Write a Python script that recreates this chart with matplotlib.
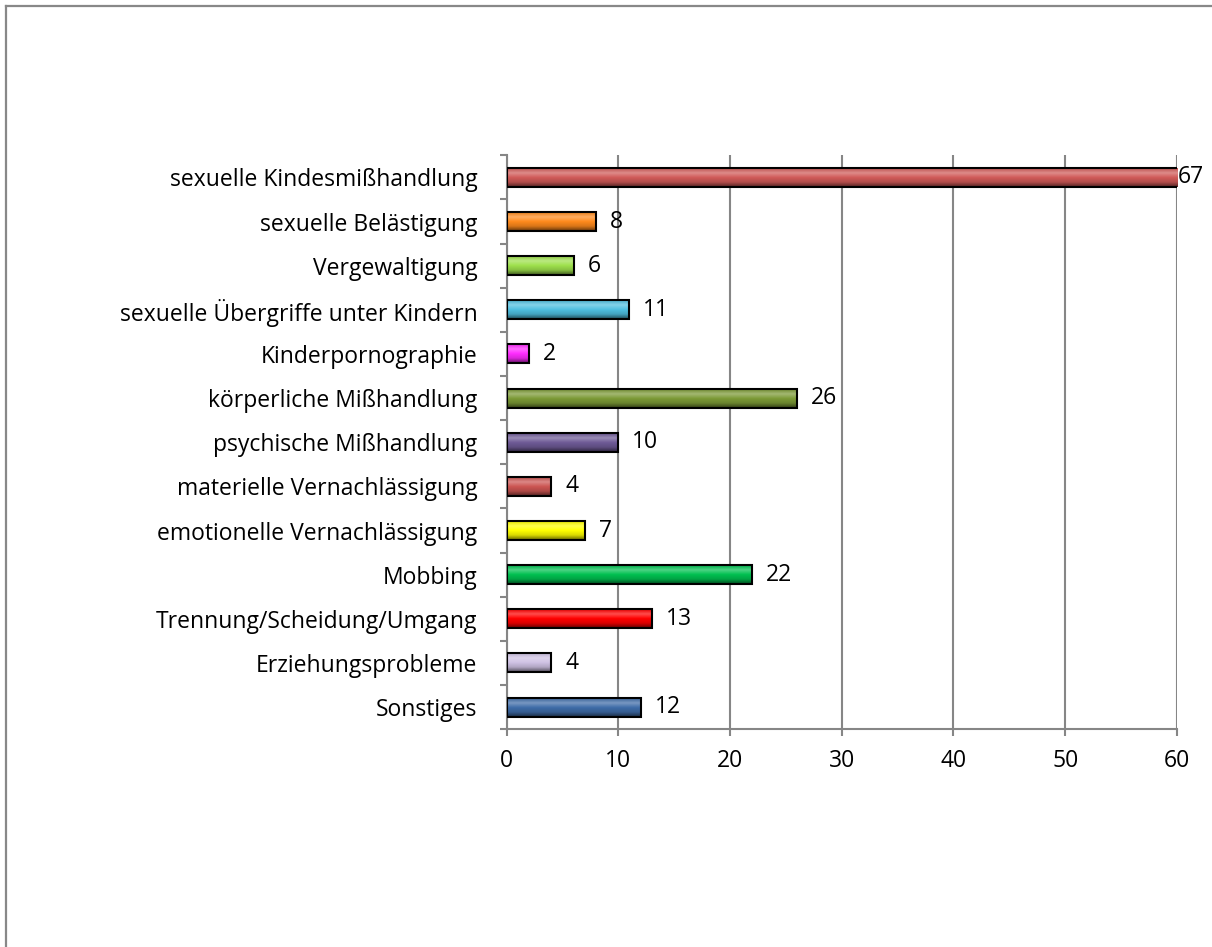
import numpy as np
import matplotlib.pyplot as plt
from matplotlib.colors import LinearSegmentedColormap, to_rgb
from matplotlib.lines import Line2D

plt.rcParams['font.family'] = ['Open Sans', 'DejaVu Sans']

# data, top to bottom as in the chart
categories = ['sexuelle Kindesmißhandlung', 'sexuelle Belästigung', 'Vergewaltigung',
              'sexuelle Übergriffe unter Kindern', 'Kinderpornographie',
              'körperliche Mißhandlung', 'psychische Mißhandlung',
              'materielle Vernachlässigung', 'emotionelle Vernachlässigung',
              'Mobbing', 'Trennung/Scheidung/Umgang', 'Erziehungsprobleme', 'Sonstiges']
values = [67, 8, 6, 11, 2, 26, 10, 4, 7, 22, 13, 4, 12]
colors = ['#d05a58', '#ff8a1c', '#9ee04c', '#4fbfe0', '#ff2cff', '#7c9a36',
          '#6e5a96', '#cc5552', '#ffff00', '#00c050', '#ff0000', '#cfc2e4', '#3f6ca8']

xmax = 60
fs = 16.5

fig = plt.figure(figsize=(12.12, 9.47), dpi=100)
ax = fig.add_axes([0.418, 0.230, 0.553, 0.606])

y = np.arange(len(categories))[::-1]
bars = ax.barh(y, values, height=0.43, color=colors, edgecolor='black', linewidth=1.5, zorder=4)

# glossy gradient inside each bar
for b, c in zip(bars, colors):
    r = np.array(to_rgb(c))
    dark = r * 0.4
    light = r + (1 - r) * 0.3
    cmap = LinearSegmentedColormap.from_list('g', [dark, r * 0.85, r, light, r * 0.9])
    grad = np.linspace(0, 1, 64).reshape(-1, 1)
    x0, y0 = b.get_x(), b.get_y()
    x1 = min(x0 + b.get_width(), xmax)
    ax.imshow(grad, cmap=cmap, aspect='auto', origin='lower',
              extent=[x0, x1, y0, y0 + b.get_height()], zorder=3.5)
    b.set_facecolor('none')

for yi, v in zip(y, values):
    if v > xmax:
        ax.annotate(str(v), (xmax, yi), xytext=(1, 0), textcoords='offset points',
                    va='center', ha='left', fontsize=fs, annotation_clip=False)
    else:
        ax.annotate(str(v), (v, yi), xytext=(10, 0), textcoords='offset points',
                    va='center', ha='left', fontsize=fs)

ax.set_xlim(0, xmax)
ax.set_ylim(-0.5, len(categories) - 0.5)
ax.set_xticks(range(0, 61, 10))
ax.set_yticks(y)
ax.set_yticklabels(categories)
ax.set_yticks(np.arange(-0.5, len(categories), 1), minor=True)
ax.tick_params(axis='y', which='major', length=0, pad=21, labelsize=fs)
ax.tick_params(axis='y', which='minor', length=5, width=1.5, color='#868686', direction='out')
ax.tick_params(axis='x', length=5, width=1.5, color='#868686', labelsize=fs, pad=9)

ax.grid(axis='x', color='#868686', linewidth=1.5, zorder=0)
ax.set_axisbelow(True)
for s in ['top', 'right']:
    ax.spines[s].set_visible(False)
for s in ['left', 'bottom']:
    ax.spines[s].set_color('#868686')
    ax.spines[s].set_linewidth(1.5)

# chart frame (only top and left edges fall inside the picture)
fig.add_artist(Line2D([0.005, 0.005], [0, 0.9937], color='#888888', lw=1.6))
fig.add_artist(Line2D([0.005, 1], [0.9937, 0.9937], color='#888888', lw=1.6))

fig.savefig('out.png', dpi=100)
